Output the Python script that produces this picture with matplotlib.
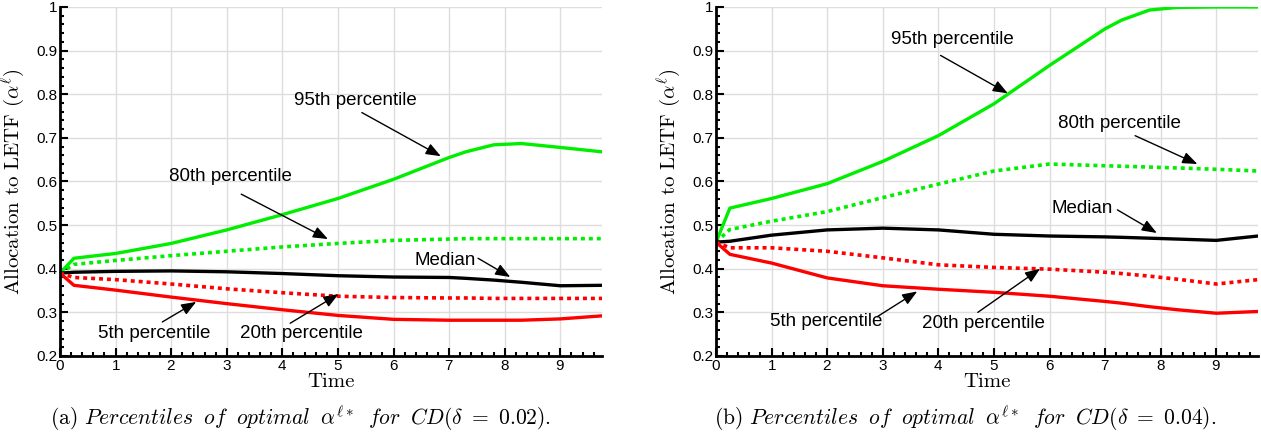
import numpy as np
import matplotlib.pyplot as plt
from matplotlib.ticker import MultipleLocator, FuncFormatter

plt.rcParams['mathtext.fontset'] = 'cm'
plt.rcParams['font.serif'] = ['cmr10', 'DejaVu Serif']
plt.rcParams['axes.formatter.use_mathtext'] = True

# time grid (years)
t = [0, 0.25, 1, 2, 3, 4, 5, 6, 7, 7.3, 7.8, 8.3, 9, 9.75]

# (a) CD(delta = 0.02)
a_p95 = [0.39, 0.424, 0.435, 0.458, 0.489, 0.524, 0.561, 0.605, 0.655, 0.668, 0.684, 0.687, 0.678, 0.668]
a_p80 = [0.39, 0.41, 0.419, 0.43, 0.44, 0.45, 0.458, 0.465, 0.468, 0.469, 0.469, 0.469, 0.469, 0.469]
a_med = [0.39, 0.392, 0.394, 0.395, 0.393, 0.389, 0.384, 0.381, 0.38, 0.378, 0.374, 0.369, 0.361, 0.362]
a_p20 = [0.39, 0.38, 0.375, 0.365, 0.354, 0.345, 0.337, 0.334, 0.333, 0.333, 0.332, 0.332, 0.332, 0.332]
a_p05 = [0.39, 0.362, 0.351, 0.335, 0.32, 0.306, 0.293, 0.284, 0.282, 0.282, 0.282, 0.282, 0.285, 0.292]

# (b) CD(delta = 0.04)
b_p95 = [0.461, 0.539, 0.561, 0.595, 0.646, 0.705, 0.778, 0.866, 0.95, 0.97, 0.993, 0.999, 1.0, 1.0]
b_p80 = [0.461, 0.49, 0.509, 0.531, 0.563, 0.594, 0.624, 0.64, 0.636, 0.635, 0.633, 0.631, 0.628, 0.624]
b_med = [0.461, 0.463, 0.477, 0.489, 0.493, 0.489, 0.479, 0.475, 0.473, 0.472, 0.47, 0.468, 0.465, 0.475]
b_p20 = [0.461, 0.448, 0.448, 0.44, 0.425, 0.409, 0.403, 0.399, 0.392, 0.389, 0.383, 0.376, 0.365, 0.375]
b_p05 = [0.461, 0.433, 0.413, 0.379, 0.361, 0.353, 0.346, 0.337, 0.325, 0.321, 0.313, 0.306, 0.298, 0.302]

# annotation: label, text pos, arrow tail, arrow tip
a_notes = [
    ("95th percentile", (5.32, 0.785), (5.43, 0.758), (6.85, 0.658)),
    ("80th percentile", (3.06, 0.612), (3.26, 0.571), (4.82, 0.468)),
    ("Median", (6.93, 0.42), (7.52, 0.424), (8.1, 0.381)),
    ("5th percentile", (1.70, 0.252), (1.84, 0.278), (2.45, 0.324)),
    ("20th percentile", (4.35, 0.251), (4.14, 0.275), (5.01, 0.342)),
]
b_notes = [
    ("95th percentile", (4.26, 0.925), (4.04, 0.889), (5.25, 0.802)),
    ("80th percentile", (7.25, 0.732), (7.54, 0.705), (8.66, 0.64)),
    ("Median", (6.58, 0.538), (7.22, 0.535), (7.93, 0.482)),
    ("5th percentile", (1.99, 0.279), (2.9, 0.29), (3.62, 0.348)),
    ("20th percentile", (4.82, 0.275), (4.71, 0.3), (5.83, 0.4)),
]

GREEN = '#00ee00'
RED = '#ff0000'


def draw_panel(ax, p95, p80, med, p20, p05, notes):
    ax.plot(t, p95, '-', color=GREEN, lw=2.4)
    ax.plot(t, p80, color=GREEN, lw=2.6, dashes=(1.1, 1.1))
    ax.plot(t, med, '-', color='black', lw=2.4)
    ax.plot(t, p20, color=RED, lw=2.6, dashes=(1.1, 1.1))
    ax.plot(t, p05, '-', color=RED, lw=2.4)
    ax.set_xlim(0, 9.75)
    ax.set_ylim(0.2, 1.0)
    ax.xaxis.set_major_locator(MultipleLocator(1))
    ax.xaxis.set_minor_locator(MultipleLocator(0.2))
    ax.yaxis.set_major_locator(MultipleLocator(0.1))
    ax.yaxis.set_minor_locator(MultipleLocator(0.02))
    ax.yaxis.set_major_formatter(FuncFormatter(lambda v, p: "1" if abs(v - 1) < 1e-9 else "%.1f" % v))
    ax.grid(True, which='major', color='#dddddd', lw=1)
    ax.set_axisbelow(True)
    for s in ['top', 'right']:
        ax.spines[s].set_visible(False)
    for s in ['left', 'bottom']:
        ax.spines[s].set_linewidth(2)
    ax.tick_params(which='major', direction='in', length=5.5, width=1.5, labelsize=11, pad=2,
                   labelfontfamily='Liberation Sans')
    ax.tick_params(which='minor', direction='in', length=3.2, width=1.5)
    ax.set_xlabel("Time", fontsize=15, family='serif', labelpad=0)
    ax.set_ylabel(r"Allocation to LETF ($\alpha^{\ell}$)", fontsize=15, family='serif')
    ax.yaxis.set_label_coords(-0.061, 0.5)
    for label, xy_text, tail, tip in notes:
        ax.text(xy_text[0], xy_text[1], label, ha='center', va='center', fontsize=13.5,
                family='Liberation Sans')
        ax.annotate("", xy=tip, xytext=tail,
                    arrowprops=dict(arrowstyle='-|>,head_length=0.9,head_width=0.35',
                                    color='black', lw=1, shrinkA=0, shrinkB=0))


fig = plt.figure(figsize=(12.61, 4.36), dpi=100)
ax1 = fig.add_axes([0.0476, 0.1835, 0.4298, 0.8005])
ax2 = fig.add_axes([0.5678, 0.1835, 0.4298, 0.8005])
draw_panel(ax1, a_p95, a_p80, a_med, a_p20, a_p05, a_notes)
draw_panel(ax2, b_p95, b_p80, b_med, b_p20, b_p05, b_notes)

cap = r"(%s) $\mathit{Percentiles}\;\ \mathit{of}\;\ \mathit{optimal}\;\ \alpha^{\ell*}\;\ \mathit{for}\;\ CD(\delta\ =\ %s)$."
fig.text(0.238, 0.041, cap % ("a", "0.02"), ha='center', va='center', fontsize=15.5, family='serif')
fig.text(0.765, 0.041, cap % ("b", "0.04"), ha='center', va='center', fontsize=15.5, family='serif')

fig.savefig("out.png", dpi=100)
